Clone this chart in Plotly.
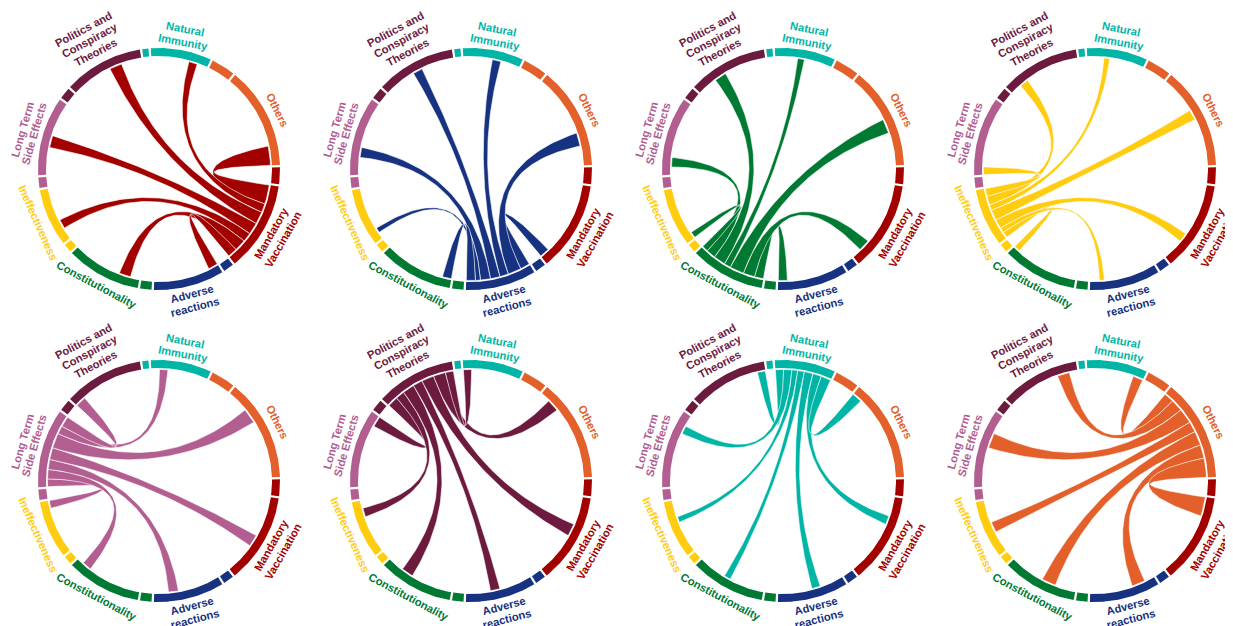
import numpy as np
import plotly.graph_objects as go

# ---------------- data ----------------
topics = ["Natural<br>Immunity", "Others", "Mandatory<br>Vaccination", "Adverse<br>reactions",
          "Constitutionality", "Ineffectiveness", "Long Term<br>Side Effects",
          "Politics and<br>Conspiracy<br>Theories"]
colors = ["#00B5A5", "#E3602A", "#A30000", "#163280", "#007A33", "#FFCC10", "#B25E91", "#6C1A3E"]

# symmetric co-occurrence matrix (row per topic, same order as topics; diagonal = self)
natural_immunity = [30, 52, 45, 45, 35, 30, 43, 42]
others_row       = [52, 115, 100, 70, 74, 55, 78, 63]
mandatory_vacc   = [45, 100, 80, 50, 60, 48, 62, 65]
adverse_reac     = [45, 70, 50, 50, 47, 26, 52, 50]
constitutional   = [35, 74, 60, 47, 55, 32, 49, 62]
ineffectiveness  = [30, 55, 48, 26, 32, 40, 40, 46]
long_term        = [43, 78, 62, 52, 49, 40, 50, 55]
politics_consp   = [42, 63, 65, 50, 62, 46, 55, 55]
matrix = [natural_immunity, others_row, mandatory_vacc, adverse_reac,
          constitutional, ineffectiveness, long_term, politics_consp]

# panel order (which topic is highlighted in each panel), row by row
panel_order = [2, 3, 4, 5, 6, 7, 0, 1]

# ---------------- layout constants ----------------
W, H = 1233, 626
OFF = 8               # page body margin of the html page
START = 98.0          # math angle (deg) where the first topic starts, going clockwise
GAP = 1.1             # deg gap between segments
R_OUT, R_IN, R_CH = 121, 113, 111.5
PANEL_DX, PANEL_DY = 312, 312
CX0, CY0 = 159, 169
LINE_H = 12.8
FONT = dict(family="Liberation Sans, Arial, sans-serif", size=11.2, weight="bold")

n = len(topics)
total = sum(sum(r) for r in matrix)
unit = (360.0 - 2 * n * GAP) / total

# compute segments (clockwise => decreasing math angle)
self_seg = []
big_seg = []
sub = [[None] * n for _ in range(n)]
a = START
for i in range(n):
    s0 = a
    s1 = a - matrix[i][i] * unit
    self_seg.append((s0, s1))
    a = s1 - GAP
    b0 = a
    for k in range(1, n):
        j = (i - k) % n
        w = matrix[i][j] * unit
        sub[i][j] = (a, a - w)
        a -= w
    big_seg.append((b0, a))
    a -= GAP


def arc_xy(cx, cy, r, a0, a1):
    m = max(3, int(abs(a1 - a0) / 0.5) + 2)
    t = np.radians(np.linspace(a0, a1, m))
    return cx + r * np.cos(t), cy - r * np.sin(t)


def annulus(cx, cy, a0, a1):
    xo, yo = arc_xy(cx, cy, R_OUT, a0, a1)
    xi, yi = arc_xy(cx, cy, R_IN, a1, a0)
    x = np.concatenate([xo, xi, xo[:1]])
    y = np.concatenate([yo, yi, yo[:1]])
    return x, y


def bez(cx, cy, p0, p2, m=60):
    t = np.linspace(0, 1, m)
    x = (1 - t) ** 2 * p0[0] + 2 * (1 - t) * t * cx + t ** 2 * p2[0]
    y = (1 - t) ** 2 * p0[1] + 2 * (1 - t) * t * cy + t ** 2 * p2[1]
    return x, y


def ribbon(cx, cy, s, tgt):
    xs, ys = arc_xy(cx, cy, R_CH, s[0], s[1])
    xt, yt = arc_xy(cx, cy, R_CH, tgt[0], tgt[1])
    bx1, by1 = bez(cx, cy, (xs[-1], ys[-1]), (xt[0], yt[0]))
    bx2, by2 = bez(cx, cy, (xt[-1], yt[-1]), (xs[0], ys[0]))
    x = np.concatenate([xs, bx1, xt, bx2])
    y = np.concatenate([ys, by1, yt, by2])
    return x, y


fig = go.Figure()
annotations = []
label_r = {1: 132, 2: 136, 3: 146}

for p, hi in enumerate(panel_order):
    row, col = divmod(p, 4)
    cx = CX0 + col * PANEL_DX
    cy = CY0 + row * PANEL_DY

    # ribbons of highlighted topic
    for k in range(1, n):
        j = (hi - k) % n
        x, y = ribbon(cx, cy, sub[hi][j], sub[j][hi])
        fig.add_trace(go.Scatter(x=x, y=y, mode="lines", fill="toself",
                                 fillcolor=colors[hi],
                                 line=dict(color="white", width=0.6),
                                 hoverinfo="skip", showlegend=False))
    # ring
    for i in range(n):
        for seg in (self_seg[i], big_seg[i]):
            x, y = annulus(cx, cy, seg[0], seg[1])
            fig.add_trace(go.Scatter(x=x, y=y, mode="lines", fill="toself",
                                     fillcolor=colors[i], line=dict(width=0),
                                     hoverinfo="skip", showlegend=False))
        # label (one annotation per line for tight line spacing)
        mid = (big_seg[i][0] + big_seg[i][1]) / 2.0
        lines = topics[i].split("<br>")
        L = len(lines)
        rl = label_r[L]
        t = (mid - 90 + 180) % 360 - 180
        if t > 90:
            t -= 180
        if t < -90:
            t += 180
        tau = -t
        lx = cx + rl * np.cos(np.radians(mid))
        ly = cy - rl * np.sin(np.radians(mid))
        dx, dy = -np.sin(np.radians(tau)), np.cos(np.radians(tau))
        for k, txt in enumerate(lines):
            d = (k - (L - 1) / 2.0) * LINE_H
            annotations.append(dict(
                x=lx + dx * d, y=ly + dy * d,
                text=txt, showarrow=False, textangle=tau,
                xanchor="center", yanchor="middle",
                font=dict(FONT, color=colors[i])))

fig.update_layout(
    width=W, height=H, autosize=False,
    margin=dict(l=0, r=0, t=0, b=0),
    paper_bgcolor="white", plot_bgcolor="white",
    xaxis=dict(range=[OFF, W + OFF], visible=False, fixedrange=True),
    yaxis=dict(range=[H + OFF, OFF], visible=False, fixedrange=True),
    annotations=annotations,
)

fig.write_html("out.html")
